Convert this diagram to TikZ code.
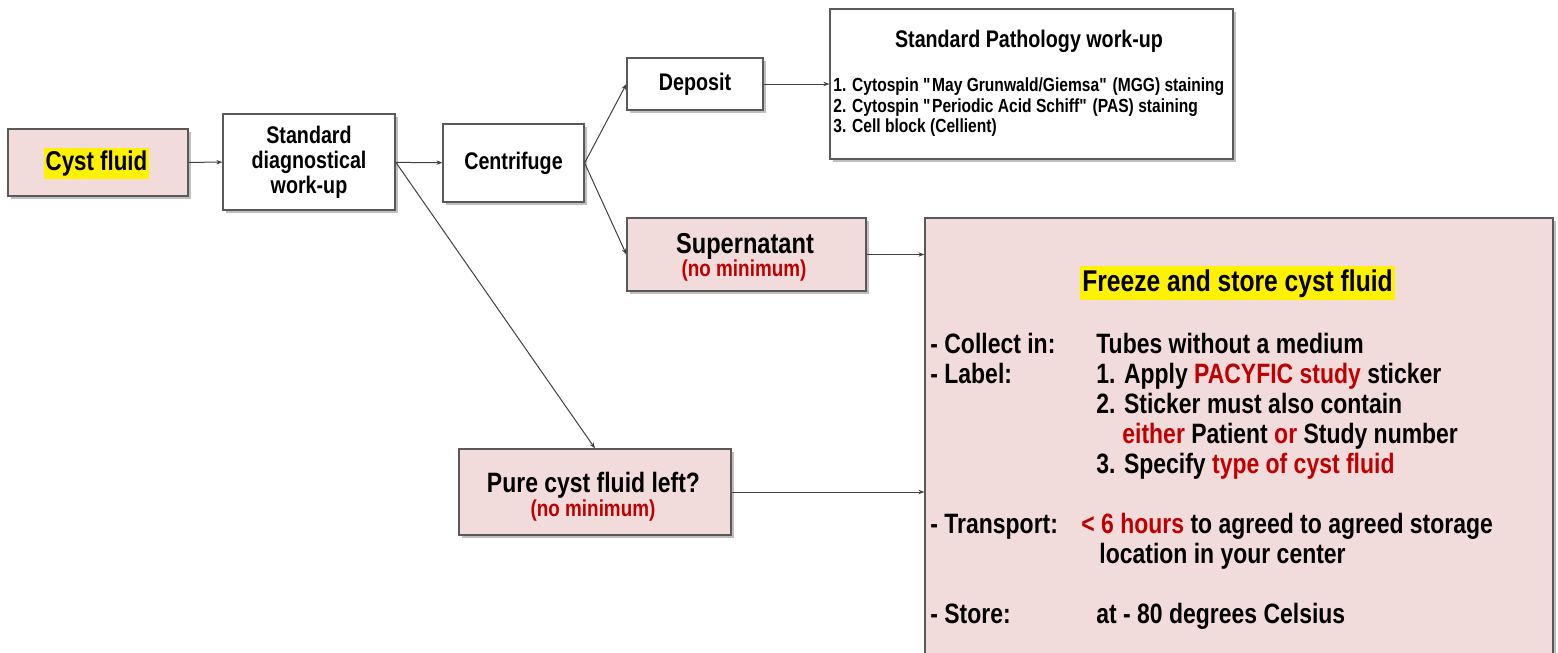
\documentclass[tikz,border=0pt]{standalone}
\usepackage{fontspec}
\setmainfont{Liberation Sans}[FakeStretch=0.82]
\usetikzlibrary{arrows.meta}
\usetikzlibrary{shadows}
\definecolor{boxpink}{HTML}{F2DCDB}
\definecolor{notered}{HTML}{C00000}
\definecolor{edgegray}{HTML}{595959}

\begin{document}
\begin{tikzpicture}[x=0.5pt,y=-0.5pt,
    box/.style={draw=edgegray,line width=0.6pt,fill=white,
        drop shadow={shadow xshift=1.5pt,shadow yshift=-1.5pt,fill=black!25,opacity=1}},
    pinkbox/.style={box,fill=boxpink},
    link/.style={draw=black!75,line width=0.5pt,-{Stealth[length=3pt,width=2.2pt]}},
    hilite/.style={fill=yellow,inner xsep=1pt,inner ysep=1.5pt},
    txt/.style={font=\bfseries\fontsize{12}{12.5}\selectfont,align=center},
    body/.style={font=\bfseries\fontsize{14}{15}\selectfont,anchor=base west,inner sep=0pt},
    small/.style={font=\bfseries\fontsize{9.5}{10.5}\selectfont,anchor=base west,inner sep=0pt},
    note/.style={font=\bfseries\fontsize{11.5}{12}\selectfont,text=notered,anchor=base,inner sep=0pt}]
    \useasboundingbox (0,0) rectangle (1558,653);

    % boxes
    \node[pinkbox,minimum width=90pt,minimum height=33.5pt] (cyst) at (98,162.5) {};
    \node[hilite,font=\bfseries\fontsize{13.6}{14}\selectfont] (cysttxt) at (96.5,163.5) {Cyst fluid};
    \node[box,txt,minimum width=86pt,minimum height=48pt] (diag) at (309,162) {Standard\\diagnostical\\work-up};
    \node[box,txt,minimum width=70.5pt,minimum height=39pt] (centri) at (513.5,163) {Centrifuge};
    \node[box,txt,minimum width=68pt,minimum height=26pt] (deposit) at (695,84) {Deposit};

    \node[box,minimum width=201.5pt,minimum height=75pt] (patho) at (1031.5,84) {};
    \node[txt,anchor=base,inner sep=0pt] (pathotitle) at (1029,47) {Standard Pathology work-up};
    \node[small] (mgg) at (833,91) {1. Cytospin \textquotedbl May Grunwald/Giemsa\textquotedbl{} (MGG) staining};
    \node[small] (pas) at (833,112) {2. Cytospin \textquotedbl Periodic Acid Schiff\textquotedbl{} (PAS) staining};
    \node[small] (cellblock) at (833,132) {3. Cell block (Cellient)};

    \node[pinkbox,minimum width=119.5pt,minimum height=36.5pt] (super) at (746.5,254.5) {};
    \node[font=\bfseries\fontsize{14.4}{15}\selectfont,anchor=base,inner sep=0pt] (supertitle) at (745,253) {Supernatant};
    \node[note] (supernote) at (744,276) {(no minimum)};

    \node[pinkbox,minimum width=136pt,minimum height=43pt] (pure) at (595,492) {};
    \node[font=\bfseries\fontsize{14}{15}\selectfont,anchor=base,inner sep=0pt] (puretitle) at (593.5,492) {Pure cyst fluid left?};
    \node[note] (purenote) at (593,516) {(no minimum)};

    % freeze and store
    \node[pinkbox,minimum width=314pt,minimum height=241pt] (freeze) at (1239,459) {};
    \node[hilite,font=\bfseries\fontsize{15}{16}\selectfont,anchor=base] (freezetitle) at (1237.5,291) {Freeze and store cyst fluid};
    \node[body] (collect) at (930,353) {- Collect in:};
    \node[body] (tubes) at (1096,353) {Tubes without a medium};
    \node[body] (label) at (930,383) {- Label:};
    \node[body] (apply) at (1096,383) {1. Apply \textcolor{notered}{PACYFIC study} sticker};
    \node[body] (sticker) at (1096,413) {2. Sticker must also contain};
    \node[body] (either) at (1122,443) {\textcolor{notered}{either} Patient \textcolor{notered}{or} Study number};
    \node[body] (specify) at (1096,473) {3. Specify \textcolor{notered}{type of cyst fluid}};
    \node[body] (transport) at (930,533) {- Transport:};
    \node[body] (hours) at (1081,533) {\textcolor{notered}{< 6 hours} to agreed to agreed storage};
    \node[body] (location) at (1099,563) {location in your center};
    \node[body] (store) at (930,623) {- Store:};
    \node[body] (minus) at (1096,623) {at - 80 degrees Celsius};

    % connectors
    \draw[link] (cyst) -- (diag);
    \draw[link] (diag) -- (centri);
    \draw[link] (diag.east) -- (pure.north);
    \draw[link] (centri.east) -- (deposit.west);
    \draw[link] (centri.east) -- (super.west);
    \draw[link] (deposit) -- (patho);
    \draw[link] (super.east) -- (super.east -| freeze.west);
    \draw[link] (pure.east) -- (pure.east -| freeze.west);
\end{tikzpicture}
\end{document}
